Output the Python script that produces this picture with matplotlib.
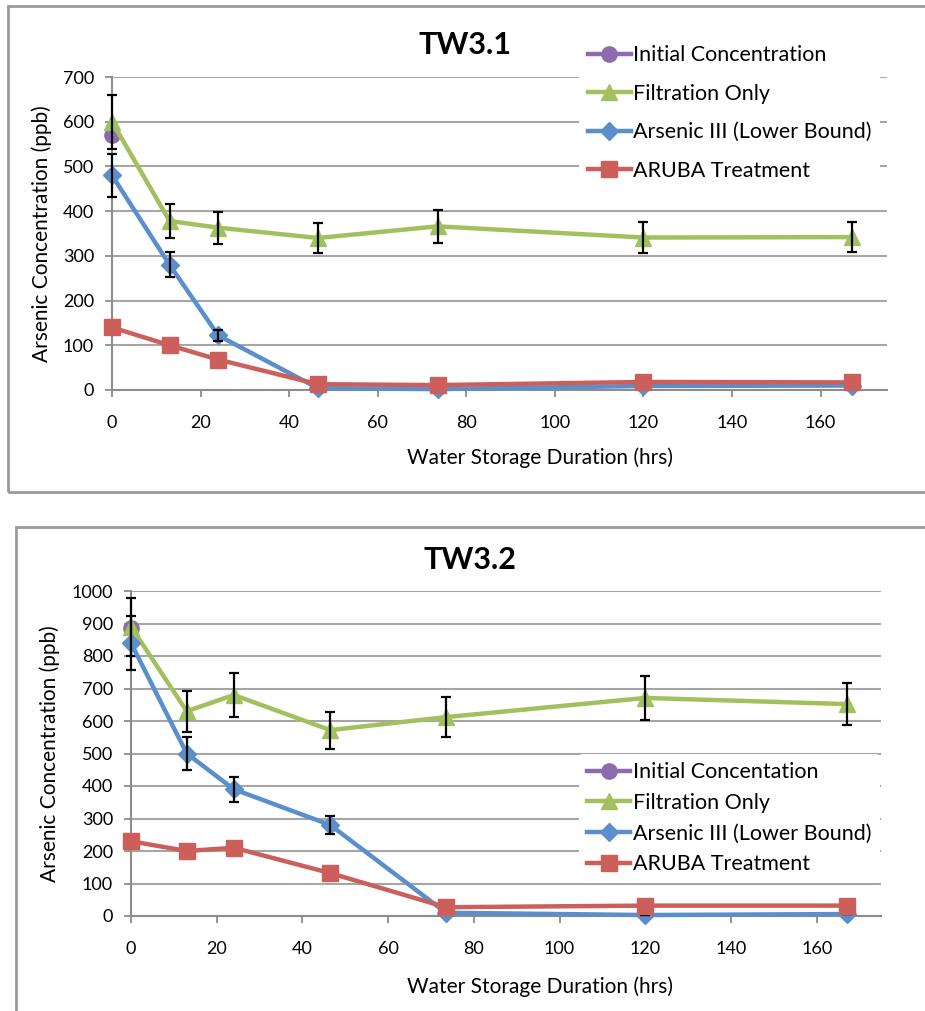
import matplotlib
matplotlib.use("Agg")
import matplotlib.pyplot as plt
from matplotlib.patches import Rectangle

plt.rcParams['font.family'] = ['Lato', 'DejaVu Sans']

# sampling times (hrs)
hours = [0, 13, 24, 46.5, 73.5, 120, 167]

# TW3.1
tw31_initial = [570]
tw31_filtration = [600, 378, 363, 340, 366, 341, 342]
tw31_filtration_err = [60, 38, 36, 34, 37, 34, 34]
tw31_arsenic3 = [480, 280, 122, 4, 2, 9, 10]
tw31_arsenic3_err = [48, 28, 12, 0, 0, 1, 1]
tw31_aruba = [140, 100, 68, 13, 11, 18, 17]

# TW3.2
tw32_initial = [885]
tw32_filtration = [890, 630, 680, 572, 612, 671, 652]
tw32_filtration_err = [89, 63, 68, 57, 61, 67, 65]
tw32_arsenic3 = [840, 500, 390, 280, 10, 3, 6]
tw32_arsenic3_err = [84, 50, 39, 28, 1, 0, 1]
tw32_aruba = [230, 200, 210, 132, 27, 32, 32]

purple = '#8C6BB1'
green = '#A2C05E'
blue = '#5A8FCB'
red = '#CD5F5B'
gridc = '#A6A6A6'

W, H = 925, 1011
fig = plt.figure(figsize=(W / 100, H / 100), dpi=100)


def px_box(l, t, r, b):
    return [l / W, 1 - b / H, (r - l) / W, (b - t) / H]


def panel(rect, title, title_xy, initial, filt, filt_err, ars, ars_err, aruba,
          ymax, initial_label, leg_anchor, leg_spacing, xlabel_x):
    ax = fig.add_axes(rect)
    h1, = ax.plot([0], initial, color=purple, lw=3.2, marker='o', ms=11,
                  label=initial_label, zorder=3, clip_on=False)
    h2, = ax.plot(hours, filt, color=green, lw=3.2, marker='^', ms=12,
                  label='Filtration Only', zorder=4, clip_on=False)
    ax.errorbar(hours, filt, yerr=filt_err, fmt='none', ecolor='black',
                elinewidth=1.6, capsize=3.5, capthick=1.6, zorder=4.5,
                clip_on=False)
    h3, = ax.plot(hours, ars, color=blue, lw=3.2, marker='D', ms=9,
                  label='Arsenic III (Lower Bound)', zorder=5, clip_on=False)
    ax.errorbar(hours, ars, yerr=ars_err, fmt='none', ecolor='black',
                elinewidth=1.6, capsize=3.5, capthick=1.6, zorder=5.5,
                clip_on=False)
    h4, = ax.plot(hours, aruba, color=red, lw=3.2, marker='s', ms=11.5,
                  label='ARUBA Treatment', zorder=6, clip_on=False)

    ax.set_xlim(0, 175)
    ax.set_ylim(0, ymax)
    ax.set_xticks(range(0, 161, 20))
    ax.set_yticks(range(0, ymax + 1, 100))
    ax.grid(axis='y', color=gridc, lw=1.5)
    ax.set_axisbelow(True)
    for s in ['top', 'right']:
        ax.spines[s].set_visible(False)
    for s in ['left', 'bottom']:
        ax.spines[s].set_color('#8C8C8C')
        ax.spines[s].set_linewidth(1.5)
    ax.tick_params(axis='x', length=5, width=1.3, color='#8C8C8C',
                   labelsize=13, pad=13)
    ax.tick_params(axis='y', length=5, width=1.3, color='#8C8C8C',
                   labelsize=13, pad=8)
    ax.set_xlabel('Water Storage Duration (hrs)', fontsize=15)
    ax.xaxis.set_label_coords(xlabel_x, -0.185)
    ax.set_ylabel('Arsenic Concentration (ppb)', fontsize=15, labelpad=8)

    leg = ax.legend(handles=[h1, h2, h3, h4], loc='upper left',
                    bbox_to_anchor=leg_anchor, frameon=True, fontsize=15.5,
                    handlelength=2.0, handletextpad=0.1,
                    labelspacing=leg_spacing, borderpad=0.4, borderaxespad=0)
    leg.get_frame().set_edgecolor('none')
    leg.get_frame().set_facecolor('white')
    leg.get_frame().set_alpha(1)
    leg.set_zorder(10)

    fig.text(title_xy[0] / W, 1 - title_xy[1] / H, title, fontsize=22,
             fontweight='bold', ha='center', va='center')
    return ax


# panel frames
fig.add_artist(Rectangle((8 / W, 1 - 492 / H), 1, 486 / H,
                         transform=fig.transFigure, fill=False,
                         edgecolor='#9A9A9A', lw=2))
fig.add_artist(Rectangle((16 / W, -0.1), 1, 0.1 + 1 - 527 / H,
                         transform=fig.transFigure, fill=False,
                         edgecolor='#9A9A9A', lw=2))

panel(px_box(112, 77, 887, 390), 'TW3.1', (465, 45),
      tw31_initial, tw31_filtration, tw31_filtration_err,
      tw31_arsenic3, tw31_arsenic3_err, tw31_aruba, 700,
      'Initial Concentration', (0.603, 1.129), 0.86, 0.552)

panel(px_box(131, 591, 881, 916), 'TW3.2', (470, 560),
      tw32_initial, tw32_filtration, tw32_filtration_err,
      tw32_arsenic3, tw32_arsenic3_err, tw32_aruba, 1000,
      'Initial Concentation', (0.597, 0.499), 0.49, 0.545)

fig.savefig('out.png', dpi=100)
